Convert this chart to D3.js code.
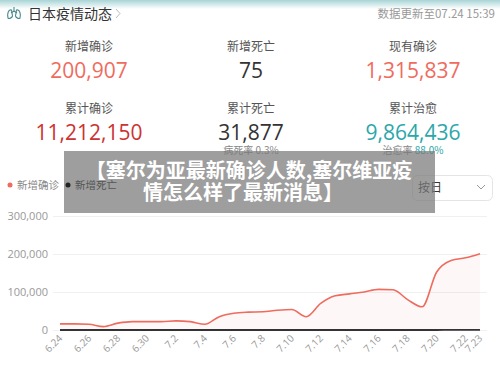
<!DOCTYPE html>
<html>
<head>
<meta charset="utf-8">
<script src="https://cdn.jsdelivr.net/npm/d3@7"></script>
<style>
  body { margin: 0; background: #fff; }
  svg { display: block; font-family: "Noto Sans CJK SC", "Noto Sans", sans-serif; }
</style>
</head>
<body>
<div id="chart"></div>
<script>
const dates = ['6.24','6.25','6.26','6.27','6.28','6.29','6.30','7.1','7.2','7.3','7.4','7.5','7.6','7.7','7.8',
  '7.9','7.10','7.11','7.12','7.13','7.14','7.15','7.16','7.17','7.18','7.19','7.20','7.21','7.22','7.23'];
const newCases = [16000,16000,15000,9000,18000,22000,22000,22000,24000,22000,15000,35000,44000,47000,48000,
  52000,54000,35000,70000,90000,95000,100000,107000,106000,80000,61000,152000,183000,190000,200907];
const newDeaths = [20,20,18,15,22,25,25,26,28,27,20,30,35,38,40,42,45,35,50,55,58,60,62,62,55,50,65,70,72,75];
const xTicks = ['6.24','6.26','6.28','6.30','7.2','7.4','7.6','7.8','7.10','7.12','7.14','7.16','7.18','7.20','7.22','7.23'];
const yTicks = [0,100000,200000,300000];

const statLabels = ['新增确诊','新增死亡','现有确诊','累计确诊','累计死亡','累计治愈'];
const statValues = ['200,907','75','1,315,837','11,212,150','31,877','9,864,436'];
const statColors = ['#ef6b5e','#333','#ef6b5e','#cc3333','#333','#2aa7aa'];

const width = 500, height = 366;
const svg = d3.select('#chart').append('svg')
  .attr('width', width).attr('height', height);

// header strip
const defs = svg.append('defs');
const grad = defs.append('linearGradient').attr('id', 'top').attr('x1', 0).attr('y1', 0).attr('x2', 0).attr('y2', 1);
grad.append('stop').attr('offset', '0%').attr('stop-color', '#a9d4d6');
grad.append('stop').attr('offset', '100%').attr('stop-color', '#fff');
svg.append('rect').attr('width', width).attr('height', 9).attr('fill', 'url(#top)');

// lung icon
const icon = svg.append('g').attr('fill', 'none').attr('stroke', '#4a8a8c').attr('stroke-width', 1.1);
icon.append('path').attr('d', 'M14 7 V12 M14 11 L11 13 M14 11 L17 13');
icon.append('path').attr('d', 'M11.5 10 C8 9 7 15 8 18 C9 19 12 18 12.5 16 Z');
icon.append('path').attr('d', 'M16.5 10 C20 9 21 15 20 18 C19 19 16 18 15.5 16 Z');

svg.append('text').attr('x', 28).attr('y', 18.5).attr('font-size', 14).attr('fill', '#333').text('日本疫情动态');
svg.append('path').attr('d', 'M116 9 L120 13.5 L116 18').attr('fill', 'none').attr('stroke', '#bbb').attr('stroke-width', 1);
svg.append('text').attr('x', 495).attr('y', 18).attr('text-anchor', 'end')
  .attr('font-size', 11.5).attr('fill', '#999').text('数据更新至07.24 15:39');

// stats
const colX = [89, 251, 413];
statLabels.forEach((lab, i) => {
  const cx = colX[i % 3], row = Math.floor(i / 3);
  svg.append('text').attr('x', cx).attr('y', 51 + row * 62).attr('text-anchor', 'middle')
    .attr('font-size', 12).attr('fill', '#555').text(lab);
  svg.append('text').attr('x', cx).attr('y', 78 + row * 62).attr('text-anchor', 'middle')
    .attr('font-family', 'Open Sans, Noto Sans, sans-serif')
    .attr('font-size', 21).attr('fill', statColors[i]).text(statValues[i]);
});
svg.append('text').attr('x', 251).attr('y', 154).attr('text-anchor', 'middle')
  .attr('font-size', 10).attr('fill', '#888').text('病死率 0.3%');
const cure = svg.append('text').attr('x', 413).attr('y', 154).attr('text-anchor', 'middle')
  .attr('font-size', 10).attr('fill', '#888');
cure.append('tspan').text('治愈率 ');
cure.append('tspan').attr('fill', '#2aa7aa').text('88.0%');

// dropdown
svg.append('rect').attr('x', 412.5).attr('y', 175.5).attr('width', 80).attr('height', 25).attr('rx', 5)
  .attr('fill', '#fff').attr('stroke', '#e4e4e4');
svg.append('text').attr('x', 418).attr('y', 192).attr('font-size', 12).attr('fill', '#333').text('按日');
svg.append('path').attr('d', 'M477 185 L481 189 L485 185').attr('fill', 'none').attr('stroke', '#999').attr('stroke-width', 1);

// chart
const x = d3.scalePoint().domain(dates).range([60, 480]);
const y = d3.scaleLinear().domain([0, 300000]).range([330, 216]);

svg.append('g').selectAll('line').data(yTicks).join('line')
  .attr('x1', 53).attr('x2', 487)
  .attr('y1', d => y(d) + 0.5).attr('y2', d => y(d) + 0.5)
  .attr('stroke', '#f0f0f0');

const yAxis = svg.append('g').attr('transform', 'translate(48,0)')
  .call(d3.axisLeft(y).tickValues(yTicks).tickSize(0).tickPadding(0).tickFormat(d3.format(',')));
yAxis.select('.domain').remove();
yAxis.selectAll('text').attr('font-size', 11).attr('fill', '#999')
  .attr('font-family', 'Open Sans, Noto Sans, sans-serif');

const curve = d3.curveMonotoneX;
svg.append('path').datum(newCases)
  .attr('fill', 'rgba(239,107,94,0.05)')
  .attr('d', d3.area().x((d, i) => x(dates[i])).y0(y(0)).y1(d => y(d)).curve(curve));
svg.append('path').datum(newCases)
  .attr('fill', 'none').attr('stroke', '#ef6b5e').attr('stroke-width', 1.6)
  .attr('d', d3.line().x((d, i) => x(dates[i])).y(d => y(d)).curve(curve));
svg.append('path').datum(newDeaths)
  .attr('fill', 'none').attr('stroke', '#333').attr('stroke-width', 1.8)
  .attr('d', d3.line().x((d, i) => x(dates[i])).y(d => y(d)).curve(curve));

svg.append('g').selectAll('text').data(xTicks).join('text')
  .attr('transform', d => `translate(${x(d) + 3},${339}) rotate(-45)`)
  .attr('text-anchor', 'end').attr('font-size', 10).attr('fill', '#999')
  .attr('font-family', 'Open Sans, Noto Sans, sans-serif')
  .text(d => d);

// overlay banner
svg.append('rect').attr('x', 64).attr('y', 151).attr('width', 371).attr('height', 62)
  .attr('fill', 'rgba(120,120,120,0.72)');
svg.append('text').attr('x', 249).attr('y', 178).attr('text-anchor', 'middle')
  .attr('font-size', 20).attr('font-weight', 'bold').attr('fill', '#fff')
  .text('【塞尔为亚最新确诊人数,塞尔维亚疫');
svg.append('text').attr('x', 243).attr('y', 200).attr('text-anchor', 'middle')
  .attr('font-size', 20).attr('font-weight', 'bold').attr('fill', '#fff')
  .text('情怎么样了最新消息】');

// legend (drawn above the banner, as in the reference)
svg.append('circle').attr('cx', 10).attr('cy', 185).attr('r', 2.5).attr('fill', '#ef6b5e');
svg.append('text').attr('x', 17).attr('y', 189).attr('font-size', 10.5).attr('fill', '#888').text('新增确诊');
svg.append('circle').attr('cx', 68).attr('cy', 185).attr('r', 2.5).attr('fill', '#222');
svg.append('text').attr('x', 75).attr('y', 189).attr('font-size', 10.5).attr('fill', '#555').text('新增死亡');
</script>
</body>
</html>
